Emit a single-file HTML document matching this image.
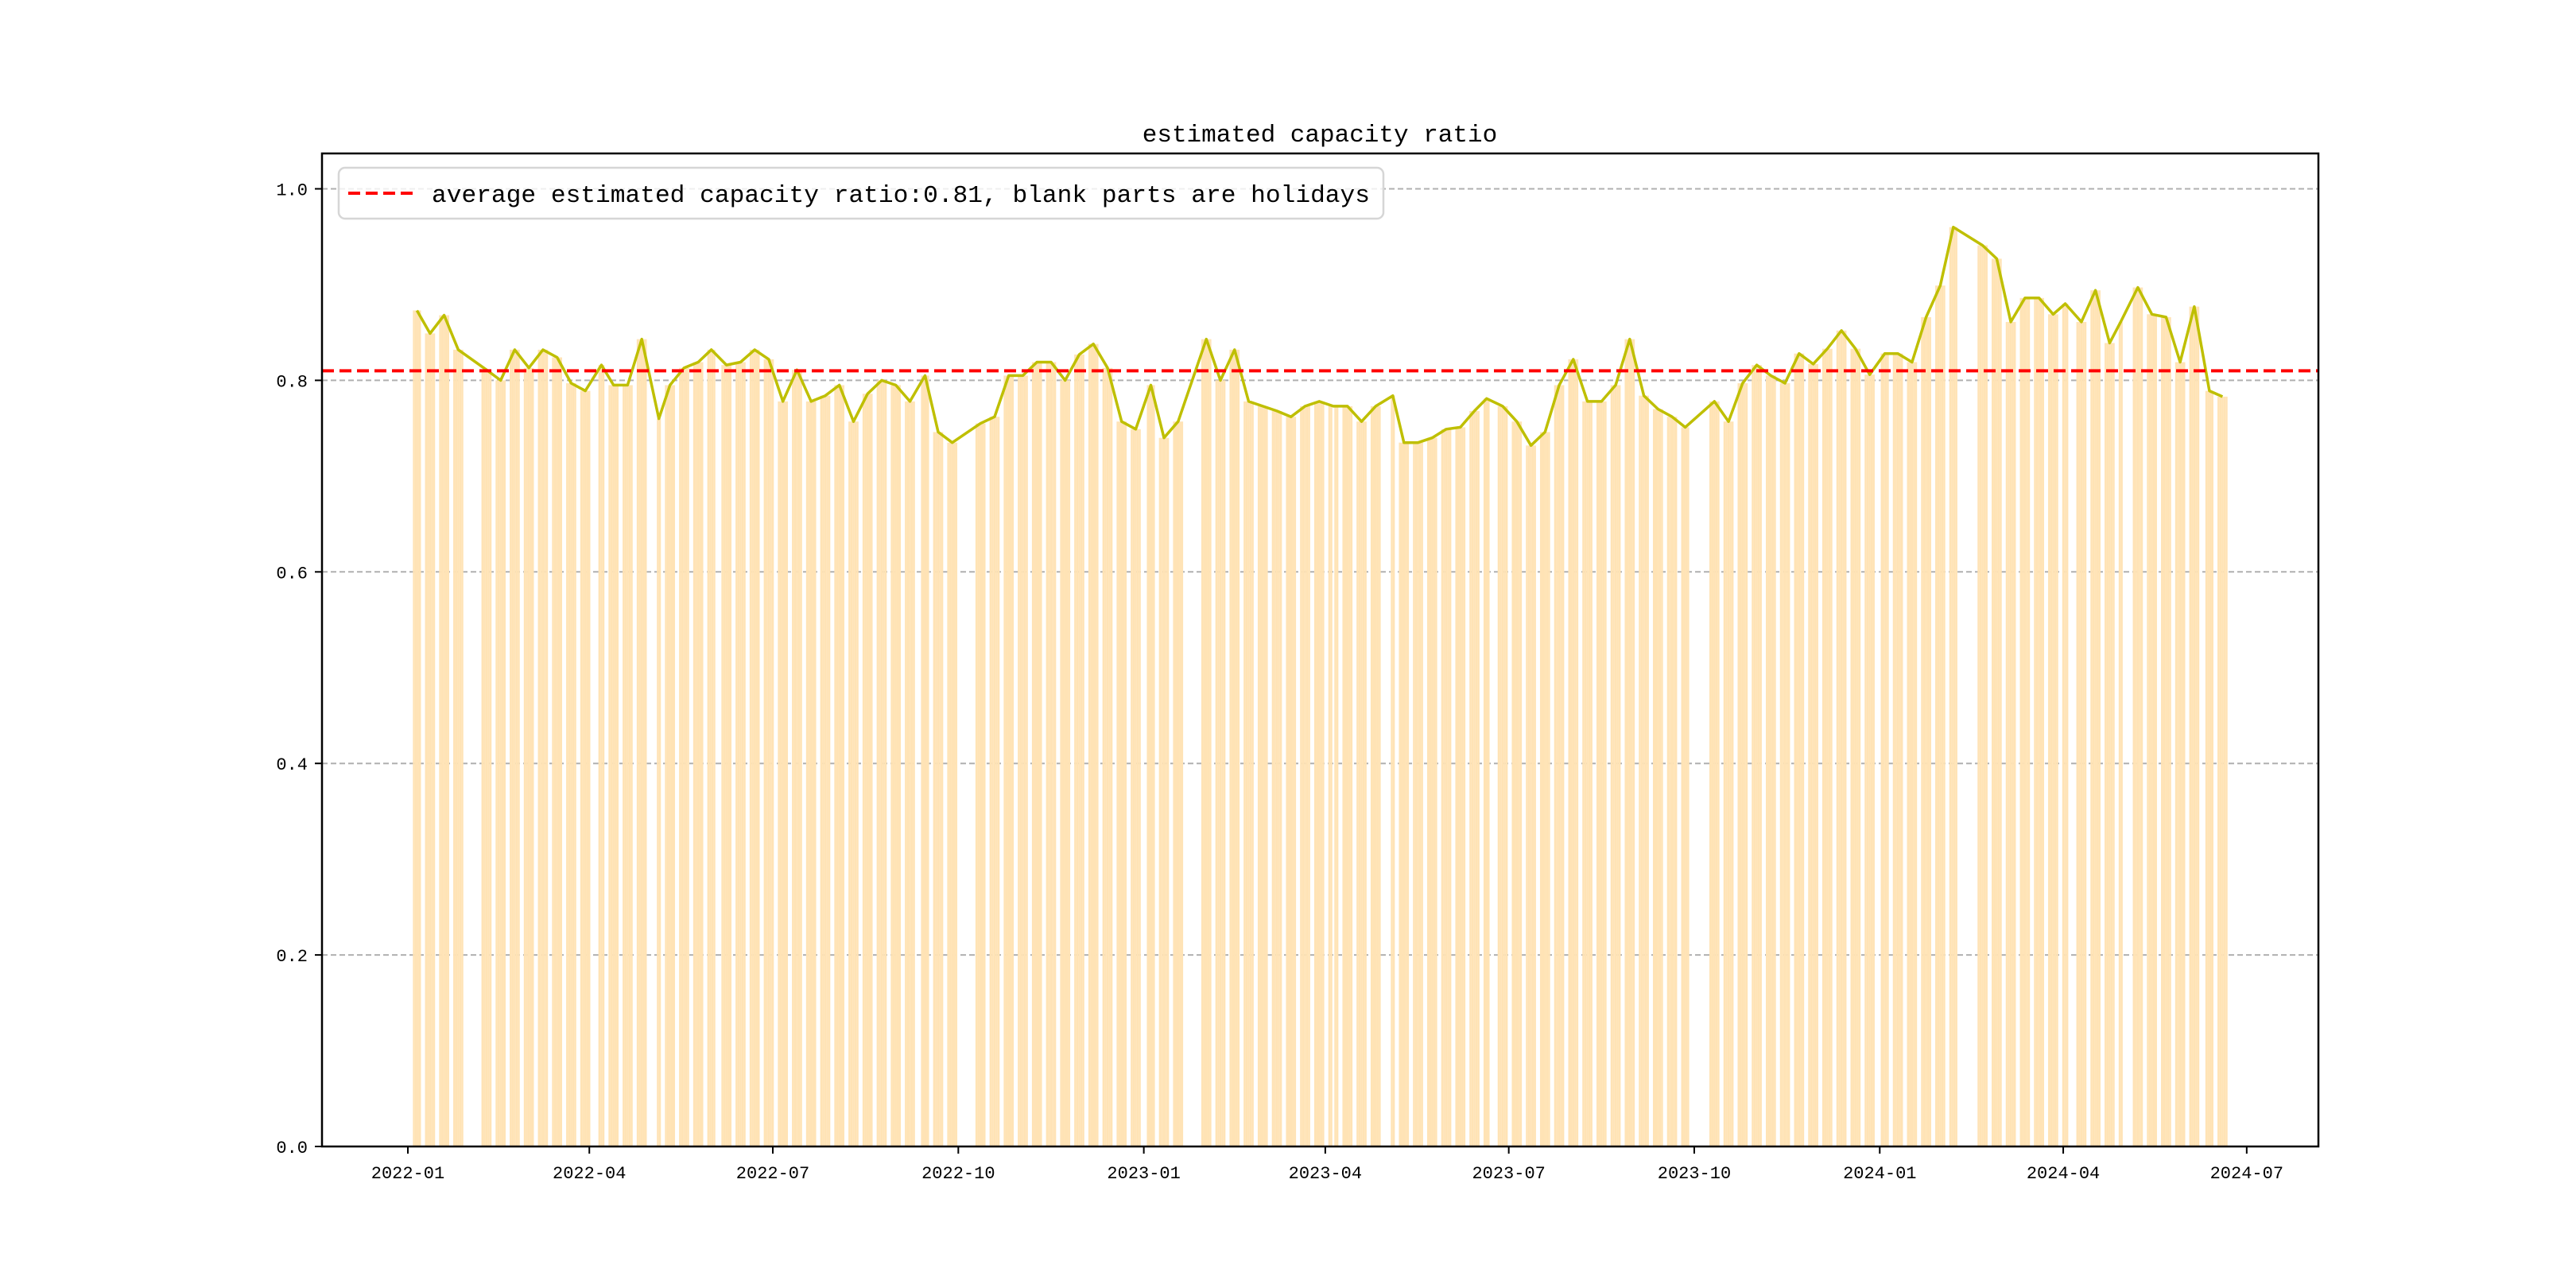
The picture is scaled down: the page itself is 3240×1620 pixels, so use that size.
<!DOCTYPE html>
<html><head><meta charset="utf-8">
<style>
html,body{margin:0;padding:0;background:#fff;}
svg{display:block;}
text{font-family:"Liberation Mono","WenQuanYi Zen Hei",monospace;fill:#000;}
</style></head>
<body>
<svg id="chart" width="3240" height="1620" viewBox="0 0 3240 1620" xmlns="http://www.w3.org/2000/svg">
  <rect x="0" y="0" width="3240" height="1620" fill="#fff"/>
  <g id="grid"></g>
  <g id="bars"></g>
  <g id="series"></g>
  <g id="axes"></g>
  <text x="1660" y="178" font-size="31" text-anchor="middle">estimated capacity ratio</text>
  <g>
    <rect x="426" y="211" width="1314" height="64" rx="8" fill="#fff" fill-opacity="0.8" stroke="#d6d6d6" stroke-width="2.5"/>
    <line x1="438" y1="243" x2="521" y2="243" stroke="#ff0000" stroke-width="4" stroke-dasharray="15,7"/>
    <text x="543" y="254" font-size="31" textLength="1180" lengthAdjust="spacingAndGlyphs">average estimated capacity ratio:0.81, blank parts are holidays</text>
  </g>
</svg>
<script>
// ---- data ----
const firstWeek = "2022-01-03";
const firstTradingDay = "2022-01-04";
const lastTradingDay = "2024-06-21";
const weekValues = [
0.873,0.849,0.868,0.832,null,0.811,0.800,0.832,0.813,0.832,0.824,0.797,0.789,0.816,0.795,0.795,0.843,0.760,0.795,0.813,0.819,0.832,0.816,0.819,0.832,0.822,0.778,0.811,0.778,0.784,0.795,0.757,0.786,0.800,0.795,0.778,0.805,0.746,0.735,null,0.755,0.762,0.805,0.805,0.819,0.819,0.800,0.827,0.838,0.813,0.757,0.749,
0.795,0.740,0.757,null,0.843,0.800,0.832,0.778,0.773,0.768,0.762,0.773,0.778,0.773,0.773,0.757,0.773,0.784,0.735,0.735,0.740,0.749,0.751,0.768,0.781,0.773,0.757,0.732,0.746,0.795,0.822,0.778,0.778,0.795,0.843,0.784,0.770,0.762,0.751,null,0.778,0.757,0.797,0.816,0.805,0.797,0.828,0.817,0.833,0.852,0.833,0.806,
0.828,0.828,0.819,0.866,0.899,0.960,null,0.941,0.927,0.861,0.886,0.886,0.869,0.880,0.861,0.894,0.839,0.861,0.897,0.869,0.866,0.819,0.877,0.789,0.783];
const holidays = ["2022-01-31","2022-02-01","2022-02-02","2022-02-03","2022-02-04","2022-04-04","2022-04-05","2022-05-02","2022-05-03","2022-05-04","2022-06-03","2022-09-12","2022-10-03","2022-10-04","2022-10-05","2022-10-06","2022-10-07","2023-01-02","2023-01-23","2023-01-24","2023-01-25","2023-01-26","2023-01-27","2023-04-05","2023-05-01","2023-05-02","2023-05-03","2023-06-22","2023-06-23","2023-09-29","2023-10-02","2023-10-03","2023-10-04","2023-10-05","2023-10-06","2024-01-01","2024-02-09","2024-02-12","2024-02-13","2024-02-14","2024-02-15","2024-02-16","2024-04-04","2024-04-05","2024-05-01","2024-05-02","2024-05-03","2024-06-10"];
const averageValue = 0.81;
const yTicks = [0.0,0.2,0.4,0.6,0.8,1.0];
const yTickLabels = ["0.0","0.2","0.4","0.6","0.8","1.0"];
const xTicks = ["2022-01-01","2022-04-01","2022-07-01","2022-10-01","2023-01-01","2023-04-01","2023-07-01","2023-10-01","2024-01-01","2024-04-01","2024-07-01"];
const xTickLabels = ["2022-01","2022-04","2022-07","2022-10","2023-01","2023-04","2023-07","2023-10","2024-01","2024-04","2024-07"];

// ---- scales ----
const NS = "http://www.w3.org/2000/svg";
const L = 405, R = 2916, T = 193, B = 1442;
const DAY = 86400000;
const origin = Date.UTC(2022,0,1);
function dnum(s){const p=s.split("-");return (Date.UTC(+p[0],+p[1]-1,+p[2])-origin)/DAY;}
function dstr(n){const d=new Date(origin+n*DAY);return d.toISOString().slice(0,10);}
const pxPerDay = 2.536;
function x(d){return 513 + pxPerDay*d;}
function y(v){return B - 1204.5*v;}
function mk(tag, attrs, parent){const e=document.createElementNS(NS,tag);for(const k in attrs)e.setAttribute(k,attrs[k]);parent.appendChild(e);return e;}

const grid = document.getElementById("grid");
const bars = document.getElementById("bars");
const series = document.getElementById("series");
const axes = document.getElementById("axes");

// grid
yTicks.forEach((v,i)=>{
  if(v===0) return;
  const g = mk("line",{x1:L,x2:R,y1:y(v),y2:y(v),stroke:"#b0b0b0","stroke-width":2,"stroke-dasharray":"7,4"},grid);
  
  
});

// trading days
const hol = new Set(holidays.map(dnum));
const f0 = dnum(firstTradingDay), f1 = dnum(lastTradingDay), w0 = dnum(firstWeek);
const pts = [];
weekValues.forEach((v,wi)=>{
  if(v===null) return;
  const days=[];
  for(let k=0;k<5;k++){const d=w0+wi*7+k; if(d<f0||d>f1||hol.has(d)) continue; days.push(d);}
  if(!days.length) return;
  days.forEach(d=>{
    const b = mk("rect",{x:x(d)-pxPerDay/2,y:y(v),width:pxPerDay,height:B-y(v),fill:"#ffe3b5"},bars);
    
    
  });
  const mid = days.reduce((a,b)=>a+b,0)/days.length;
  pts.push([x(mid),y(v)]);
});
const line = mk("polyline",{points:pts.map(p=>p[0].toFixed(1)+","+p[1].toFixed(1)).join(" "),fill:"none",stroke:"#bfbf00","stroke-width":3.5,"stroke-linejoin":"round"},series);


const avg = mk("line",{x1:L,x2:R,y1:y(averageValue),y2:y(averageValue),stroke:"#ff0000","stroke-width":4,"stroke-dasharray":"15,7"},series);



// axes frame
const frame = mk("rect",{x:L,y:T,width:R-L,height:B-T,fill:"none",stroke:"#000","stroke-width":2.5},axes);


yTicks.forEach((v,i)=>{
  const t = mk("line",{x1:L-9,x2:L,y1:y(v),y2:y(v),stroke:"#000","stroke-width":2},axes);
  
  
  const lb = mk("text",{x:L-18,y:y(v)+8,"font-size":22,"text-anchor":"end"},axes);
  lb.textContent = yTickLabels[i];
  
  
});
xTicks.forEach((s,i)=>{
  const xx = x(dnum(s));
  const t = mk("line",{x1:xx,x2:xx,y1:B,y2:B+9,stroke:"#000","stroke-width":2},axes);
  
  
  const lb = mk("text",{x:xx,y:B+40,"font-size":22,"text-anchor":"middle"},axes);
  lb.textContent = xTickLabels[i];
  
  
});
</script>
</body></html>
